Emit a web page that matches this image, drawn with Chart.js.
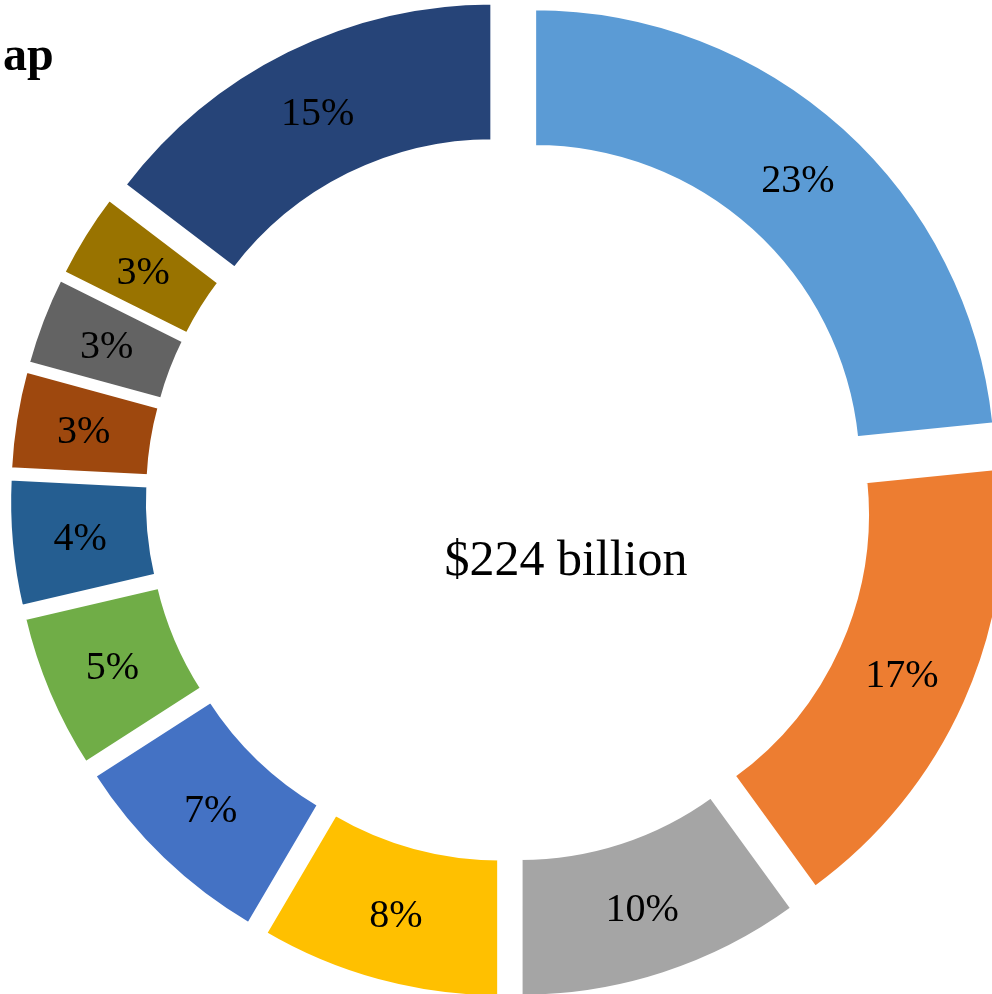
<!DOCTYPE html>
<html>
<head>
<meta charset="utf-8">
<title>$224 billion</title>
<script src="https://cdn.jsdelivr.net/npm/chart.js@4.4.1/dist/chart.umd.min.js"></script>
<style>
  html, body { margin: 0; padding: 0; background: #ffffff; }
  #wrap { position: relative; width: 992px; height: 994px; overflow: hidden; }
</style>
</head>
<body>
<div id="wrap"><canvas id="shareChart"></canvas></div>
<script>
const categories = [
  "Segment 1", "Segment 2", "Segment 3", "Segment 4", "Segment 5", "Segment 6",
  "Segment 7", "Segment 8", "Segment 9", "Segment 10", "Segment 11"
];

// share of the total, in percent
const shares = [23.4, 16.6, 10.0, 8.45, 7.45, 5.45, 4.45, 3.45, 3.1, 3.0, 14.65];

const colors = [
  "#5B9BD5", "#ED7D31", "#A5A5A5", "#FFC000", "#4472C4", "#70AD47",
  "#255E91", "#9E480E", "#636363", "#997300", "#264478"
];

const titleText = "ap";
const centerText = "$224 billion";

const SERIF = "'Liberation Serif', 'DejaVu Serif', serif";
const EXPLODE = 37.5;   // how far each slice is pushed out from the middle

/* ===============================
   PUSH SLICES OUTWARD
================================ */
const explodePlugin = {
  id: "explode",
  afterDatasetsUpdate(chart) {
    chart.getDatasetMeta(0).data.forEach(arc => {
      const mid = (arc.startAngle + arc.endAngle) / 2;
      arc.x += Math.cos(mid) * EXPLODE;
      arc.y += Math.sin(mid) * EXPLODE;
    });
  }
};

/* ===============================
   TEXT: PERCENTAGES, TOTAL, TITLE
================================ */
const textPlugin = {
  id: "texts",
  afterDatasetsDraw(chart) {
    const ctx = chart.ctx;
    ctx.save();
    ctx.fillStyle = "#000000";
    ctx.textAlign = "center";
    ctx.textBaseline = "middle";

    ctx.font = "40px " + SERIF;
    chart.getDatasetMeta(0).data.forEach((arc, i) => {
      const p = arc.getCenterPoint();
      ctx.fillText(Math.round(shares[i]) + "%", p.x, p.y + 2);
    });

    ctx.font = "50px " + SERIF;
    ctx.fillText(centerText, 566, 562);

    ctx.textAlign = "left";
    ctx.textBaseline = "alphabetic";
    ctx.font = "bold 48px " + SERIF;
    ctx.fillText(titleText, 3, 70);
    ctx.restore();
  }
};

new Chart(document.getElementById("shareChart"), {
  type: "doughnut",
  data: {
    labels: categories,
    datasets: [{
      data: shares,
      backgroundColor: colors,
      borderColor: "#ffffff",
      borderWidth: 4
    }]
  },
  options: {
    responsive: true,
    maintainAspectRatio: false,
    animation: false,
    events: [],
    radius: 462.5,
    cutout: "70%",
    layout: { padding: { left: 26, right: 0, top: 3, bottom: 0 } },
    plugins: {
      legend: { display: false },
      tooltip: { enabled: false }
    }
  },
  plugins: [explodePlugin, textPlugin]
});
</script>
</body>
</html>
